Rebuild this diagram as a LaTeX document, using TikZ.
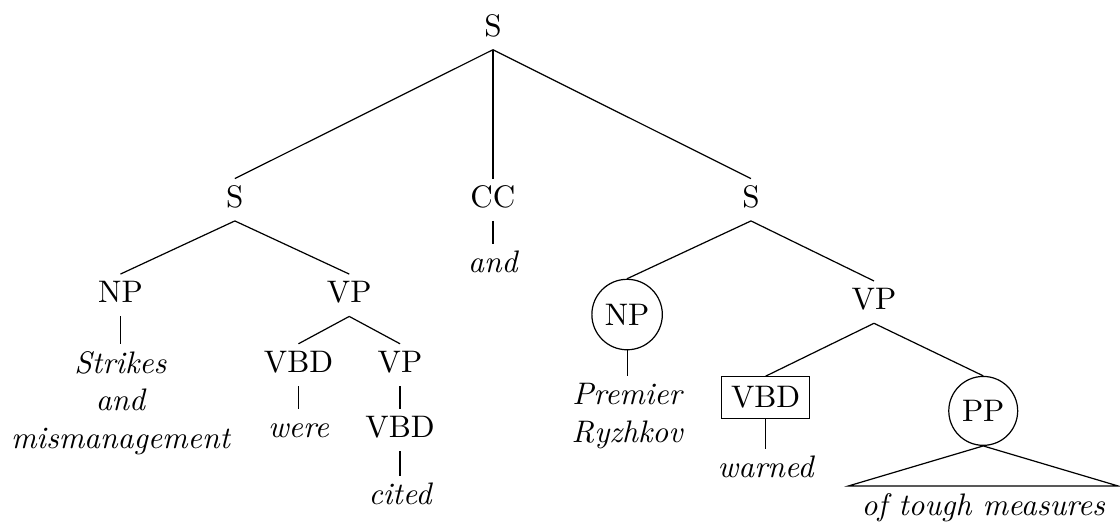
\documentclass[tikz,border=0pt]{standalone}
\usepackage{tikz}

\begin{document}
\begin{tikzpicture}[
        every node/.style={node font=\fontsize{10.3pt}{12.4pt}\selectfont},
        cat/.style={anchor=base, text height=7pt, text depth=2pt, inner sep=2.3pt},
        leaf/.style={cat, font=\itshape},
        phrase/.style={anchor=base, inner sep=2.3pt, font=\itshape, align=center},
        circled/.style={circle, draw, anchor=base, inner sep=2.6pt},
        boxed/.style={rectangle, draw, anchor=base, inner sep=3.2pt},
        branch/.style={-}
    ]
    \useasboundingbox (0,0) rectangle (13.02,-6.08);

    % Root and first level
    \node[cat] (S0) at (5.73, -0.42) {S};
    \node[cat] (S1) at (2.73, -2.41) {S};
    \node[cat] (CC) at (5.73, -2.41) {CC};
    \node[cat] (S2) at (8.73, -2.41) {S};

    % Left clause
    \node[cat] (NP1) at (1.40, -3.52) {NP};
    \node[cat] (VP1) at (4.06, -3.52) {VP};
    \node[cat] (VBD1) at (3.47, -4.33) {VBD};
    \node[cat] (VP2) at (4.65, -4.33) {VP};
    \node[cat] (VBD2) at (4.65, -5.09) {VBD};

    % Right clause
    \node[circled] (NP2) at (7.29, -3.78) {NP};
    \node[cat] (VP3) at (10.16, -3.60) {VP};
    \node[boxed] (VBD3) at (8.90, -4.74) {VBD};
    \node[circled] (PP) at (11.43, -4.90) {PP};

    % Words (multi-line ones sit on their last line)
    \node[phrase] (W1) at (1.40, -5.21) {Strikes\\and\\mismanagement};
    \node[leaf] (W2) at (3.47, -5.09) {were};
    \node[leaf] (W3) at (4.65, -5.87) {cited};
    \node[leaf] (W4) at (5.73, -3.17) {and};
    \node[phrase] (W5) at (7.29, -5.14) {Premier\\Ryzhkov};
    \node[leaf] (W6) at (8.90, -5.55) {warned};
    \node[leaf] (W7) at (11.43, -5.99) {of tough measures};

    % Branches
    \foreach \c in {S1,CC,S2} {
        \draw[branch] (S0.south) -- (\c.north);
    }
    \foreach \c in {NP1,VP1} {
        \draw[branch] (S1.south) -- (\c.north);
    }
    \foreach \c in {VBD1,VP2} {
        \draw[branch] (VP1.south) -- (\c.north);
    }
    \foreach \c in {NP2,VP3} {
        \draw[branch] (S2.south) -- (\c.north);
    }
    \foreach \c in {VBD3,PP} {
        \draw[branch] (VP3.south) -- (\c.north);
    }
    \draw[branch] (VP2.south) -- (VBD2.north);

    % Branches down to the words
    \draw[branch] (NP1.south) -- (W1.north);
    \draw[branch] (VBD1.south) -- (W2.north);
    \draw[branch] (VBD2.south) -- (W3.north);
    \draw[branch] (CC.south) -- (W4.north);
    \draw[branch] (NP2.south) -- (W5.north);
    \draw[branch] (VBD3.south) -- (W6.north);

    % Roof over the PP
    \coordinate (T1) at (9.86, -5.65);
    \coordinate (T2) at (13.00, -5.65);
    \draw[branch] (PP.south) -- (T1) -- (T2) -- cycle;

    \end{tikzpicture}
\end{document}
